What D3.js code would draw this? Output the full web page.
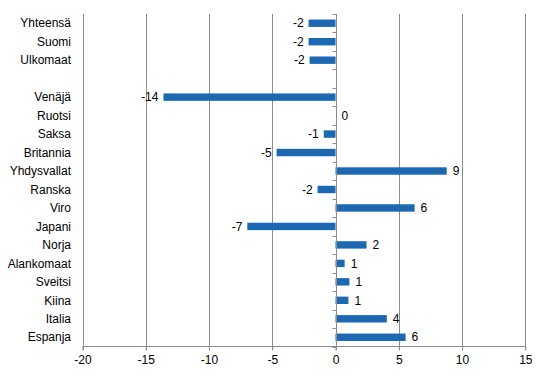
<!DOCTYPE html>
<html><head><meta charset="utf-8">
<script src="https://cdn.jsdelivr.net/npm/d3@7"></script>
<style>body{margin:0;background:#fff}svg{display:block;font-family:"Liberation Sans",Arial,sans-serif}</style>
</head><body><svg id="c" width="546" height="376"></svg>
<script>
const categories = ["Yhteensä","Suomi","Ulkomaat","","Venäjä","Ruotsi","Saksa","Britannia","Yhdysvallat","Ranska","Viro","Japani","Norja","Alankomaat","Sveitsi","Kiina","Italia","Espanja"];
const values = [-2.13,-2.13,-2.05,null,-13.6,0,-0.93,-4.66,8.79,-1.42,6.25,-6.97,2.45,0.72,1.1,1.02,4.05,5.54];
const valueLabels = ["-2","-2","-2","","-14","0","-1","-5","9","-2","6","-7","2","1","1","1","4","6"];
const xTicks = [-20,-15,-10,-5,0,5,10,15];

const svg = d3.select("#c");
const x = d3.scaleLinear().domain([-20,15]).range([82.5,525.3]);
const y = d3.scaleBand().domain(d3.range(categories.length)).range([14,346.5]);
const grid = "#8c8c8c";
const fs = 12;

// gridlines
svg.append("g").selectAll("line").data(xTicks).join("line")
  .attr("x1",d=>Math.round(x(d))+0.5).attr("x2",d=>Math.round(x(d))+0.5)
  .attr("y1",14).attr("y2",350)
  .attr("stroke",grid).attr("stroke-width",1);

// bottom axis
const xa = svg.append("g").attr("transform","translate(0,346.5)")
  .call(d3.axisBottom(x).tickValues(xTicks).tickSize(4).tickPadding(5).tickFormat(d=>String(d)));
xa.select(".domain").attr("stroke",grid).attr("d",`M${x(-20)},0H${x(15)}`);
xa.selectAll(".tick line").attr("stroke",grid);
xa.selectAll("text").attr("font-size",fs).attr("fill","#000").attr("font-family","Liberation Sans, Arial, sans-serif");

// bars
const bh = 7.4;
svg.append("g").selectAll("rect").data(values.map((v,i)=>({v,i})).filter(d=>d.v!==null)).join("rect")
  .attr("x",d=>x(Math.min(0,d.v))).attr("width",d=>Math.abs(x(d.v)-x(0)))
  .attr("y",d=>y(d.i)+y.bandwidth()/2-bh/2).attr("height",bh)
  .attr("fill","#1c68b2");

// zero axis with ticks
const x0 = Math.round(x(0))+0.5;
svg.append("line").attr("x1",x0).attr("x2",x0).attr("y1",14).attr("y2",346.5).attr("stroke",grid);
svg.append("g").selectAll("line").data(d3.range(categories.length+1)).join("line")
  .attr("x1",x0-4).attr("x2",x0)
  .attr("y1",i=>Math.round(14+i*y.step())+0.5).attr("y2",i=>Math.round(14+i*y.step())+0.5)
  .attr("stroke",grid);

// category labels
svg.append("g").selectAll("text").data(categories).join("text")
  .attr("x",71).attr("y",(d,i)=>y(i)+y.bandwidth()/2).attr("dy","0.35em")
  .attr("text-anchor","end").attr("font-size",fs).attr("fill","#000").text(d=>d);

// value labels
svg.append("g").selectAll("text").data(values.map((v,i)=>({v,i})).filter(d=>d.v!==null)).join("text")
  .attr("x",d=>d.v<0 ? x(d.v)-5 : x(d.v)+6)
  .attr("y",d=>y(d.i)+y.bandwidth()/2).attr("dy","0.35em")
  .attr("text-anchor",d=>d.v<0?"end":"start").attr("font-size",fs).attr("fill","#000")
  .text(d=>valueLabels[d.i]);
</script></body></html>
